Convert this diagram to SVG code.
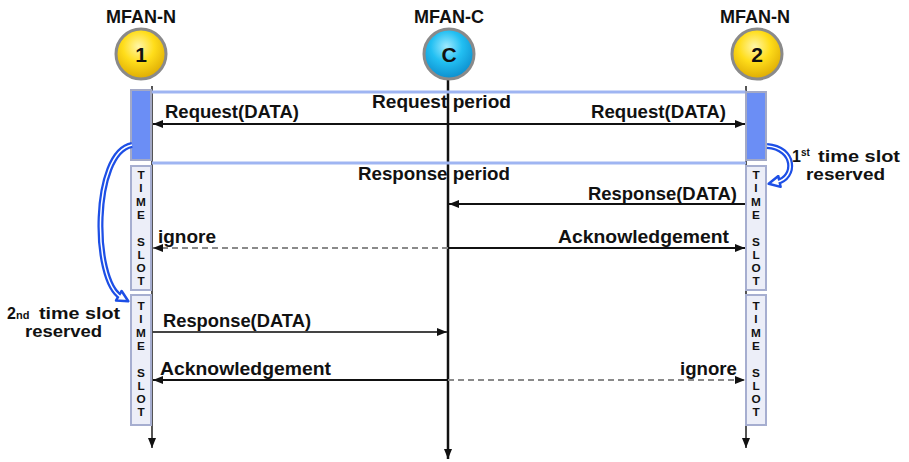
<svg xmlns="http://www.w3.org/2000/svg" width="909" height="462" viewBox="0 0 909 462">
  <style>
    text { font-family: "Liberation Sans", Arial, sans-serif; font-weight: bold; fill: #111; }
    .title { font-size: 18px; text-anchor: middle; }
    .num { font-size: 21px; text-anchor: middle; }
    .lbl { font-size: 17.5px; }
    .note { font-size: 16px; }
    .slot-txt { font-size: 11.8px; text-anchor: middle; }
    .life { stroke: #555; stroke-width: 2; fill: none; }
    .life-c { stroke: #111; stroke-width: 2.5; fill: none; }
    .band { stroke: #9fb5f2; stroke-width: 3; fill: none; }
    .req-box { fill: #6b8ef5; stroke: #a3a9c6; stroke-width: 2; }
    .slot { fill: #eceef8; stroke: #a6aed0; stroke-width: 2; }
    .msg { stroke: #111; stroke-width: 2; fill: none; }
    .msg-grey { stroke: #444; stroke-width: 2; fill: none; }
    .dash { stroke: #8a8a8a; stroke-width: 1.8; stroke-dasharray: 6 4; fill: none; }
    .curve-out { stroke: #1d4fe6; stroke-width: 6; fill: none; }
    .curve-in { stroke: #ffffff; stroke-width: 1.5; fill: none; }
    .ring { stroke: #8a8a8a; stroke-width: 3; }
  </style>
  <defs>
    <marker id="arrow" viewBox="0 0 10 8" refX="10" refY="4" markerWidth="10" markerHeight="8" markerUnits="userSpaceOnUse" orient="auto-start-reverse">
      <path d="M0,0 L10,4 L0,8 z" fill="#111"/>
    </marker>
    <marker id="bluehead" viewBox="0 0 14 14" refX="4" refY="7" markerWidth="14" markerHeight="14" markerUnits="userSpaceOnUse" orient="auto">
      <path d="M1.5,1.5 L12.5,7 L1.5,12.5 z" fill="#ffffff" stroke="#1d4fe6" stroke-width="2.5" stroke-linejoin="round"/>
    </marker>
    <radialGradient id="gold" cx="0.45" cy="0.35" r="0.7">
      <stop offset="0" stop-color="#fff6a8"/>
      <stop offset="0.45" stop-color="#ffdd1a"/>
      <stop offset="1" stop-color="#d9a400"/>
    </radialGradient>
    <radialGradient id="cyan" cx="0.45" cy="0.35" r="0.7">
      <stop offset="0" stop-color="#9eeaff"/>
      <stop offset="0.45" stop-color="#22bff2"/>
      <stop offset="1" stop-color="#0a86c8"/>
    </radialGradient>
  </defs>

  <!-- lifelines -->
  <g id="lifelines">
    <line class="life" x1="152" y1="86" x2="152" y2="448" marker-end="url(#arrow)"/>
    <line class="life-c" x1="448" y1="80" x2="448" y2="459" marker-end="url(#arrow)"/>
    <line class="life" x1="746" y1="86" x2="746" y2="448" marker-end="url(#arrow)"/>
  </g>

  <!-- request period band -->
  <g id="request-period">
    <line class="band" x1="152" y1="92" x2="746" y2="92"/>
    <line class="band" x1="152" y1="163" x2="746" y2="163"/>
    <text class="lbl" x="372" y="108" textLength="139" lengthAdjust="spacingAndGlyphs">Request period</text>
  </g>
  <g id="response-period">
    <text class="lbl" x="358" y="180" textLength="152" lengthAdjust="spacingAndGlyphs">Response period</text>
  </g>

  <!-- node 1 -->
  <g id="node-n1">
    <text class="title" x="141" y="23">MFAN-N</text>
    <circle class="ring" cx="141" cy="54" r="25" fill="url(#gold)"/>
    <text class="num" x="141" y="62">1</text>
    <rect class="req-box" x="131" y="90" width="20" height="70"/>
    <rect class="slot" x="131" y="166" width="20" height="124"/>
    <text class="slot-txt"><tspan x="141" y="179">T</tspan><tspan x="141" y="192.3">I</tspan><tspan x="141" y="205.6">M</tspan><tspan x="141" y="218.9">E</tspan><tspan x="141" y="245.5">S</tspan><tspan x="141" y="258.8">L</tspan><tspan x="141" y="272.1">O</tspan><tspan x="141" y="285.4">T</tspan></text>
    <rect class="slot" x="131" y="295" width="20" height="130"/>
    <text class="slot-txt"><tspan x="141" y="310">T</tspan><tspan x="141" y="323.3">I</tspan><tspan x="141" y="336.6">M</tspan><tspan x="141" y="349.9">E</tspan><tspan x="141" y="376.5">S</tspan><tspan x="141" y="389.8">L</tspan><tspan x="141" y="403.1">O</tspan><tspan x="141" y="416.4">T</tspan></text>
  </g>

  <!-- coordinator -->
  <g id="node-c">
    <text class="title" x="449" y="23">MFAN-C</text>
    <circle class="ring" cx="449" cy="54" r="25" fill="url(#cyan)"/>
    <text class="num" x="449" y="62">C</text>
  </g>

  <!-- node 2 -->
  <g id="node-n2">
    <text class="title" x="755" y="23">MFAN-N</text>
    <circle class="ring" cx="757" cy="54" r="25" fill="url(#gold)"/>
    <text class="num" x="757" y="62">2</text>
    <rect class="req-box" x="746" y="92" width="20" height="68"/>
    <rect class="slot" x="746" y="166" width="20" height="124"/>
    <text class="slot-txt"><tspan x="756" y="179">T</tspan><tspan x="756" y="192.3">I</tspan><tspan x="756" y="205.6">M</tspan><tspan x="756" y="218.9">E</tspan><tspan x="756" y="245.5">S</tspan><tspan x="756" y="258.8">L</tspan><tspan x="756" y="272.1">O</tspan><tspan x="756" y="285.4">T</tspan></text>
    <rect class="slot" x="746" y="295" width="20" height="130"/>
    <text class="slot-txt"><tspan x="756" y="310">T</tspan><tspan x="756" y="323.3">I</tspan><tspan x="756" y="336.6">M</tspan><tspan x="756" y="349.9">E</tspan><tspan x="756" y="376.5">S</tspan><tspan x="756" y="389.8">L</tspan><tspan x="756" y="403.1">O</tspan><tspan x="756" y="416.4">T</tspan></text>
  </g>

  <!-- messages -->
  <g id="connectors">
    <line class="msg" x1="153" y1="124" x2="745" y2="124" stroke-width="2.5" marker-start="url(#arrow)" marker-end="url(#arrow)"/>
    <text class="lbl" x="165" y="118" textLength="134" lengthAdjust="spacingAndGlyphs">Request(DATA)</text>
    <text class="lbl" x="591" y="118" textLength="135" lengthAdjust="spacingAndGlyphs">Request(DATA)</text>

    <line class="msg" x1="745" y1="204" x2="449" y2="204" marker-end="url(#arrow)"/>
    <text class="lbl" x="588" y="200" textLength="149" lengthAdjust="spacingAndGlyphs">Response(DATA)</text>

    <line class="msg" x1="448" y1="248" x2="745" y2="248" marker-end="url(#arrow)"/>
    <line class="dash" x1="448" y1="248" x2="153" y2="248" marker-end="url(#arrow)"/>
    <text class="lbl" x="158" y="243" textLength="58" lengthAdjust="spacingAndGlyphs">ignore</text>
    <text class="lbl" x="558" y="243" textLength="171" lengthAdjust="spacingAndGlyphs">Acknowledgement</text>

    <line class="msg-grey" x1="152" y1="332" x2="447" y2="332" marker-end="url(#arrow)"/>
    <text class="lbl" x="163" y="327" textLength="148" lengthAdjust="spacingAndGlyphs">Response(DATA)</text>

    <line class="msg" x1="448" y1="380" x2="153" y2="380" marker-end="url(#arrow)"/>
    <line class="dash" x1="448" y1="380" x2="745" y2="380" marker-end="url(#arrow)"/>
    <text class="lbl" x="160" y="375" textLength="171" lengthAdjust="spacingAndGlyphs">Acknowledgement</text>
    <text class="lbl" x="680" y="375" textLength="57" lengthAdjust="spacingAndGlyphs">ignore</text>

    <!-- slot reservation curves -->
    <path class="curve-out" d="M132,145 C92,152 92,280 121,297" marker-end="url(#bluehead)"/>
    <path class="curve-in" d="M132,145 C92,152 92,280 121,297"/>
    <path class="curve-out" d="M767,146 C796,148 796,178 777,182" marker-end="url(#bluehead)"/>
    <path class="curve-in" d="M767,146 C796,148 796,178 777,182"/>
  </g>

  <!-- reservation notes -->
  <g id="note-first">
    <text class="note" x="792" y="162">1</text>
    <text x="801" y="156" font-size="10">st</text>
    <text class="note" x="818" y="162" textLength="82" lengthAdjust="spacingAndGlyphs">time slot</text>
    <text class="note" x="806" y="180" textLength="79" lengthAdjust="spacingAndGlyphs">reserved</text>
  </g>
  <g id="note-second">
    <text class="note" x="7" y="319">2</text>
    <text x="16" y="319" font-size="11">nd</text>
    <text class="note" x="39" y="319" textLength="81" lengthAdjust="spacingAndGlyphs">time slot</text>
    <text class="note" x="25" y="337" textLength="77" lengthAdjust="spacingAndGlyphs">reserved</text>
  </g>
</svg>
